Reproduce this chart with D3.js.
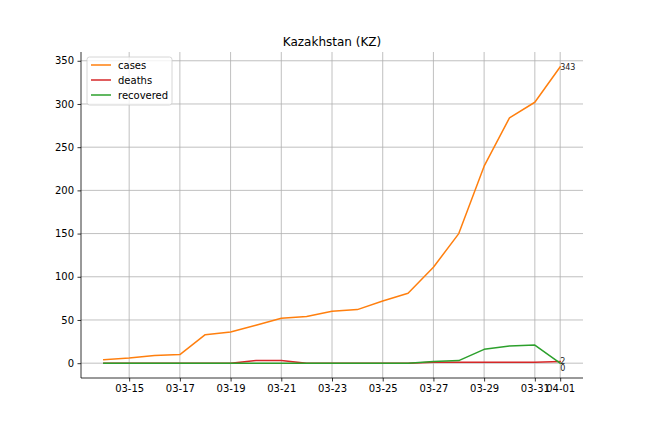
<!DOCTYPE html>
<html><head><meta charset="utf-8">
<script src="https://cdn.jsdelivr.net/npm/d3@7"></script>
<style>
body{margin:0;background:#fff;}
text{font-family:"DejaVu Sans",sans-serif;}
</style></head>
<body>
<svg id="chart" width="648" height="432"></svg>
<script>
const dates = ["03-14","03-15","03-16","03-17","03-18","03-19","03-20","03-21","03-22","03-23","03-24","03-25","03-26","03-27","03-28","03-29","03-30","03-31","04-01"];
const cases = [4,6,9,10,33,36,44,52,54,60,62,72,81,111,150,228,284,302,343];
const deaths = [0,0,0,0,0,0,3,3,0,0,0,0,0,1,1,1,1,1,2];
const recovered = [0,0,0,0,0,0,0,0,0,0,0,0,0,2,3,16,20,21,0];
const xTickLabels = ["03-15","03-17","03-19","03-21","03-23","03-25","03-27","03-29","03-31","04-01"];
const yTicks = [0,50,100,150,200,250,300,350];
const seriesNames = ["cases","deaths","recovered"];
const seriesColors = ["#ff7f0e","#d62728","#2ca02c"];
const endLabels = ["343","2","0"];

const svg = d3.select("#chart");
const L=81, R=583, T=52, B=378;
const n = dates.length;
const pad = (n-1)*0.05;
const x = d3.scaleLinear().domain([-pad, n-1+pad]).range([L,R]);
const ymax = 343, ypad = ymax*0.05;
const y = d3.scaleLinear().domain([-ypad, ymax+ypad]).range([B,T]);

const g = svg.append("g");
// grid
const xTickIdx = xTickLabels.map(l=>dates.indexOf(l));
g.selectAll(".vg").data(xTickIdx).enter().append("line")
 .attr("x1",d=>x(d)).attr("x2",d=>x(d)).attr("y1",T).attr("y2",B)
 .attr("stroke","#b0b0b0").attr("stroke-width",0.8);
g.selectAll(".hg").data(yTicks).enter().append("line")
 .attr("x1",L).attr("x2",R).attr("y1",d=>y(d)).attr("y2",d=>y(d))
 .attr("stroke","#b0b0b0").attr("stroke-width",0.8);

// lines
const data = [cases,deaths,recovered];
const line = d3.line().x((d,i)=>x(i)).y(d=>y(d));
data.forEach((s,k)=>{
  g.append("path").datum(s).attr("d",line).attr("fill","none")
   .attr("stroke",seriesColors[k]).attr("stroke-width",1.5).attr("stroke-linejoin","round").attr("stroke-linecap","square");
});

// axes
const xAxis = d3.axisBottom(x).tickValues(xTickIdx).tickFormat(d=>dates[d]).tickSize(3.5).tickPadding(3.5);
const xa = svg.append("g").attr("transform",`translate(0,${B})`).call(xAxis);
const yAxis = d3.axisLeft(y).tickValues(yTicks).tickSize(3.5).tickPadding(3.5);
const ya = svg.append("g").attr("transform",`translate(${L},0)`).call(yAxis);
[xa,ya].forEach(a=>{
  a.select(".domain").remove();
  a.selectAll(".tick line").attr("stroke","#000").attr("stroke-width",0.8);
  a.selectAll(".tick text").attr("font-size",10).attr("fill","#000").attr("font-family","DejaVu Sans");
});
svg.append("line").attr("x1",L).attr("x2",L).attr("y1",T).attr("y2",B).attr("stroke","#000").attr("stroke-width",0.8);
svg.append("line").attr("x1",L).attr("x2",R).attr("y1",B).attr("y2",B).attr("stroke","#000").attr("stroke-width",0.8);

// end labels
const last = n-1;
svg.append("text").attr("x",x(last)).attr("y",y(cases[last])).attr("dy","0.35em").attr("font-size",8).attr("fill","#222").text(endLabels[0]);
svg.append("text").attr("x",x(last)).attr("y",y(deaths[last])).attr("dy","0.35em").attr("font-size",8).attr("fill","#222").text(endLabels[1]);
svg.append("text").attr("x",x(last)).attr("y",y(recovered[last])+5).attr("dy","0.35em").attr("font-size",8).attr("fill","#222").text(endLabels[2]);

// title
svg.append("text").attr("x",(L+R)/2).attr("y",46).attr("text-anchor","middle").attr("font-size",12).attr("fill","#000").text("Kazakhstan (KZ)");

// legend
const lg = svg.append("g");
lg.append("rect").attr("x",87).attr("y",57).attr("width",85).attr("height",48).attr("rx",2.5)
  .attr("fill","#fff").attr("fill-opacity",0.8).attr("stroke","#cccccc").attr("stroke-width",0.8);
seriesNames.forEach((nm,k)=>{
  const yy = 65 + k*15;
  lg.append("line").attr("x1",91).attr("x2",111).attr("y1",yy).attr("y2",yy).attr("stroke",seriesColors[k]).attr("stroke-width",1.5);
  lg.append("text").attr("x",118).attr("y",yy).attr("dy","0.35em").attr("font-size",10).attr("fill","#000").text(nm);
});
</script>
</body></html>
